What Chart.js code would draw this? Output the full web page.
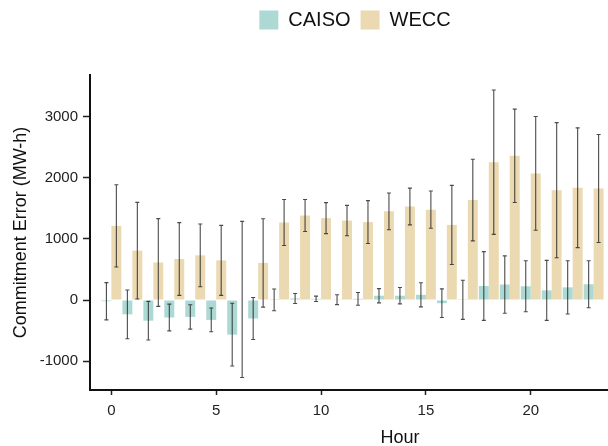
<!DOCTYPE html>
<html>
<head>
<meta charset="utf-8">
<script src="https://cdn.jsdelivr.net/npm/chart.js@4.4.0/dist/chart.umd.min.js"></script>
<style>
	html, body { margin: 0; padding: 0; background: #fff; overflow: hidden; }
	#caja { width: 608px; height: 446px; overflow: hidden; }
</style>
</head>
<body>
<div id="caja"><canvas id="grafico" width="710" height="446"></canvas></div>
<script>
// datos
var horas = [0, 1, 2, 3, 4, 5, 6, 7, 8, 9, 10, 11, 12, 13, 14, 15, 16, 17, 18, 19, 20, 21, 22, 23];
var caiso = [-20, -235, -339, -287, -277, -326, -568, -303, 3, 24, 19, 5, 19, 70, 70, 85, -52, 3, 230, 254, 225, 158, 207, 258];
var caisoErr = [305, 400, 317, 219, 200, 194, 514, 344, 178, 82, 44, 80, 104, 117, 134, 197, 235, 320, 563, 470, 418, 492, 437, 385];
var wecc = [1215, 809, 615, 672, 732, 650, 10, 608, 1270, 1385, 1342, 1302, 1277, 1453, 1533, 1481, 1231, 1638, 2258, 2363, 2075, 1800, 1840, 1828];
var weccErr = [675, 792, 719, 596, 514, 574, 1279, 724, 377, 262, 254, 249, 352, 301, 301, 306, 648, 669, 1183, 765, 932, 1107, 981, 885];
var ticksX = [0, 5, 10, 15, 20];
var ticksY = [-1000, 0, 1000, 2000, 3000];

var fuente = "'Liberation Sans', Arial, sans-serif";

function puntos(valores) {
	var res = [];
	for (var i in horas) {
		res.push({x: horas[i], y: valores[i]});
	}
	return res;
}

// barras de error (media +/- desviacion)
var barrasError = {
	id: 'barrasError',
	afterDatasetsDraw: function(chart) {
		var ctx = chart.ctx;
		var escalaY = chart.scales.y;
		var area = chart.chartArea;
		ctx.save();
		ctx.beginPath();
		ctx.rect(area.left, area.top, area.right - area.left, area.bottom - area.top);
		ctx.clip();
		ctx.strokeStyle = 'rgba(30, 30, 30, 0.8)';
		ctx.lineWidth = 1.1;
		chart.data.datasets.forEach(function(ds, d) {
			var meta = chart.getDatasetMeta(d);
			meta.data.forEach(function(barra, i) {
				var x = barra.x;
				var arriba = escalaY.getPixelForValue(ds.data[i].y + ds.errores[i]);
				var abajo = escalaY.getPixelForValue(ds.data[i].y - ds.errores[i]);
				ctx.beginPath();
				ctx.moveTo(x, arriba);
				ctx.lineTo(x, abajo);
				ctx.moveTo(x - 2, arriba);
				ctx.lineTo(x + 2, arriba);
				ctx.moveTo(x - 2, abajo);
				ctx.lineTo(x + 2, abajo);
				ctx.stroke();
			});
		});
		ctx.restore();
	}
};

var margenLeyenda = {
	id: 'margenLeyenda',
	beforeInit: function(chart) {
		var fitOrig = chart.legend.fit;
		chart.legend.fit = function() {
			fitOrig.bind(chart.legend)();
			this.height += 35;
		};
	}
};

var chartdata = {
	datasets: [
		{
			label: 'CAISO',
			backgroundColor: '#acd9d4',
			borderWidth: 0,
			data: puntos(caiso),
			errores: caisoErr
		},
		{
			label: 'WECC',
			backgroundColor: '#ebd9b1',
			borderWidth: 0,
			data: puntos(wecc),
			errores: weccErr
		}
	]
};

var ctx = document.getElementById('grafico');

var barGraph = new Chart(ctx, {
	type: 'bar',
	data: chartdata,
	plugins: [barrasError, margenLeyenda],
	options: {
		responsive: false,
		animation: false,
		layout: { padding: 0 },
		datasets: {
			bar: { categoryPercentage: 0.95, barPercentage: 1.0 }
		},
		plugins: {
			tooltip: { enabled: false },
			legend: {
				position: 'top',
				labels: {
					boxWidth: 19,
					boxHeight: 19,
					padding: 10,
					color: '#111',
					font: { family: fuente, size: 20 }
				}
			}
		},
		scales: {
			x: {
				type: 'linear',
				offset: false,
				min: -1.02,
				max: 28.55,
				afterBuildTicks: function(scale) {
					scale.ticks = ticksX.map(function(v) { return {value: v}; });
				},
				afterFit: function(scale) { scale.height = 56; },
				grid: { offset: false, drawOnChartArea: false, drawTicks: true, tickLength: 5, tickColor: '#222', tickWidth: 1.5 },
				border: { display: true, color: '#111', width: 2 },
				ticks: { color: '#222', padding: 7, maxRotation: 0, font: { family: fuente, size: 15 },
					callback: function(v) { return String(v); } },
				title: { display: true, text: 'Hour', color: '#111', padding: { top: 0, bottom: -3 }, font: { family: fuente, size: 18 } }
			},
			y: {
				min: -1475,
				max: 3688,
				afterBuildTicks: function(scale) {
					scale.ticks = ticksY.map(function(v) { return {value: v}; });
				},
				afterFit: function(scale) { scale.width = 90; },
				grid: { offset: false, drawOnChartArea: false, drawTicks: true, tickLength: 7, tickColor: '#222', tickWidth: 1.5 },
				border: { display: true, color: '#111', width: 2 },
				ticks: { color: '#222', padding: 5, font: { family: fuente, size: 15 },
					callback: function(v) { return String(v); } },
				title: { display: true, text: 'Commitment Error (MW-h)', color: '#111', padding: { top: 10, bottom: 0 }, font: { family: fuente, size: 18 } }
			}
		}
	}
});
</script>
</body>
</html>
